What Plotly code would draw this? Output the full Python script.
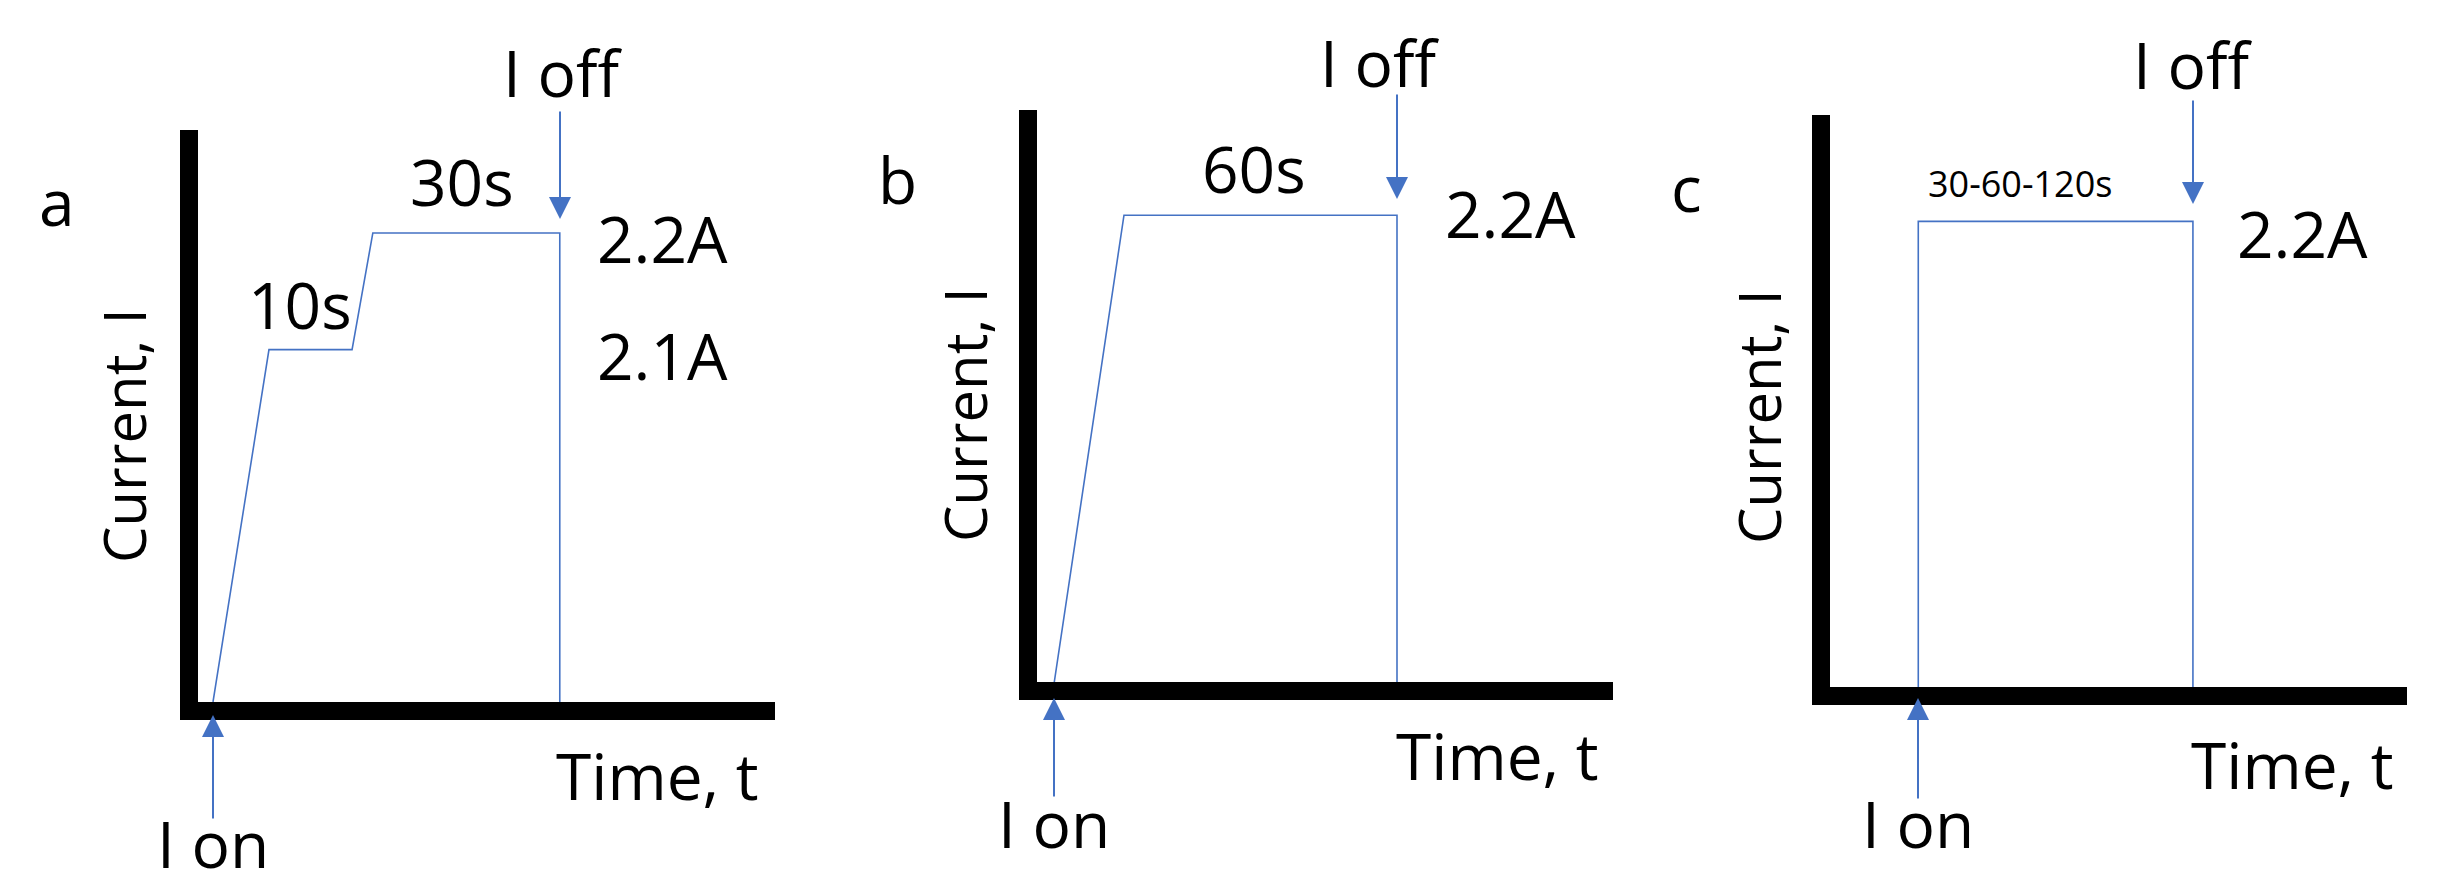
import plotly.graph_objects as go

W, H = 2440, 894
BLUE = '#4472C4'
FONT = 'Open Sans'

# schematic current profiles (x: time in % of axis, y: current in % of axis)
time_a = [2.6, 12.3, 26.7, 30.3, 62.7, 62.7]
curr_a = [0, 61.6, 61.6, 82.0, 82.0, 0]
time_b = [3.0, 15.1, 62.5, 62.5]
curr_b = [0, 81.6, 81.6, 0]
time_c = [15.3, 15.3, 62.9, 62.9]
curr_c = [0, 81.4, 81.4, 0]

panel_letters = ['a', 'b', 'c']
hold_labels = [['10s', '30s'], ['60s'], ['30-60-120s']]
level_labels = [['2.1A', '2.2A'], ['2.2A'], ['2.2A']]

# panel boxes in pixels: left, right, top, bottom
boxes = [(190, 767, 122, 694), (1029, 1605, 102, 674), (1822, 2399, 107, 679)]


def px(x):
    return x / W


def py(y):
    return 1 - y / H


fig = go.Figure()
series = [(time_a, curr_a), (time_b, curr_b), (time_c, curr_c)]
for i, (t, c) in enumerate(series):
    sfx = '' if i == 0 else str(i + 1)
    fig.add_trace(go.Scatter(x=t, y=c, mode='lines', line=dict(color=BLUE, width=1.6),
                             xaxis='x' + sfx, yaxis='y' + sfx, showlegend=False,
                             hoverinfo='skip'))
    l, r, tp, b = boxes[i]
    ax = dict(domain=[px(l), px(r)], range=[0, 100], showgrid=False, zeroline=False,
              showticklabels=False, ticks='', showline=True, linecolor='black',
              linewidth=18, anchor='y' + sfx)
    ay = dict(domain=[py(b), py(tp)], range=[0, 100], showgrid=False, zeroline=False,
              showticklabels=False, ticks='', showline=True, linecolor='black',
              linewidth=18, anchor='x' + sfx)
    fig.update_layout(**{'xaxis' + sfx: ax, 'yaxis' + sfx: ay})

ann = []


def text(x, y, s, size=64, angle=0):
    ann.append(dict(x=px(x), y=py(y), xref='paper', yref='paper', text=s, showarrow=False,
                    font=dict(family=FONT, size=size, color='black'), textangle=angle,
                    xanchor='center', yanchor='middle'))


def arrow(x, y0, y1):
    # head at y1, tail at y0 (pixel offset)
    ann.append(dict(x=px(x), y=py(y1), xref='paper', yref='paper', ax=0, ay=y0 - y1,
                    text='', showarrow=True, arrowhead=2,
                    arrowsize=2.2, arrowwidth=2, arrowcolor=BLUE))


# panel a
text(49, 193, panel_letters[0])
text(115, 427, 'Current, I', size=58, angle=-90)
text(292, 296, hold_labels[0][0])
text(454, 173, hold_labels[0][1])
text(554, 65, 'I off')
text(654, 230, level_labels[0][1])
text(654, 347, level_labels[0][0])
text(649, 767, 'Time, t')
text(205, 835, 'I on')
arrow(552, 102, 211)
arrow(205, 812, 707)

# panel b
text(889, 171, panel_letters[1])
text(956, 407, 'Current, I', size=58, angle=-90)
text(1246, 160, hold_labels[1][0])
text(1371, 54, 'I off')
text(1502, 205, level_labels[1][0])
text(1489, 747, 'Time, t')
text(1046, 815, 'I on')
arrow(1389, 85, 191)
arrow(1046, 790, 690)

# panel c
text(1678, 179, panel_letters[2])
text(1750, 409, 'Current, I', size=58, angle=-90)
text(2012, 176, hold_labels[2][0], size=36)
text(2184, 57, 'I off')
text(2294, 225, level_labels[2][0])
text(2284, 756, 'Time, t')
text(1910, 815, 'I on')
arrow(2185, 91, 196)
arrow(1910, 792, 690)

fig.update_layout(width=W, height=H, margin=dict(l=0, r=0, t=0, b=0),
                  plot_bgcolor='white', paper_bgcolor='white', annotations=ann)
fig.write_html('out.html')
